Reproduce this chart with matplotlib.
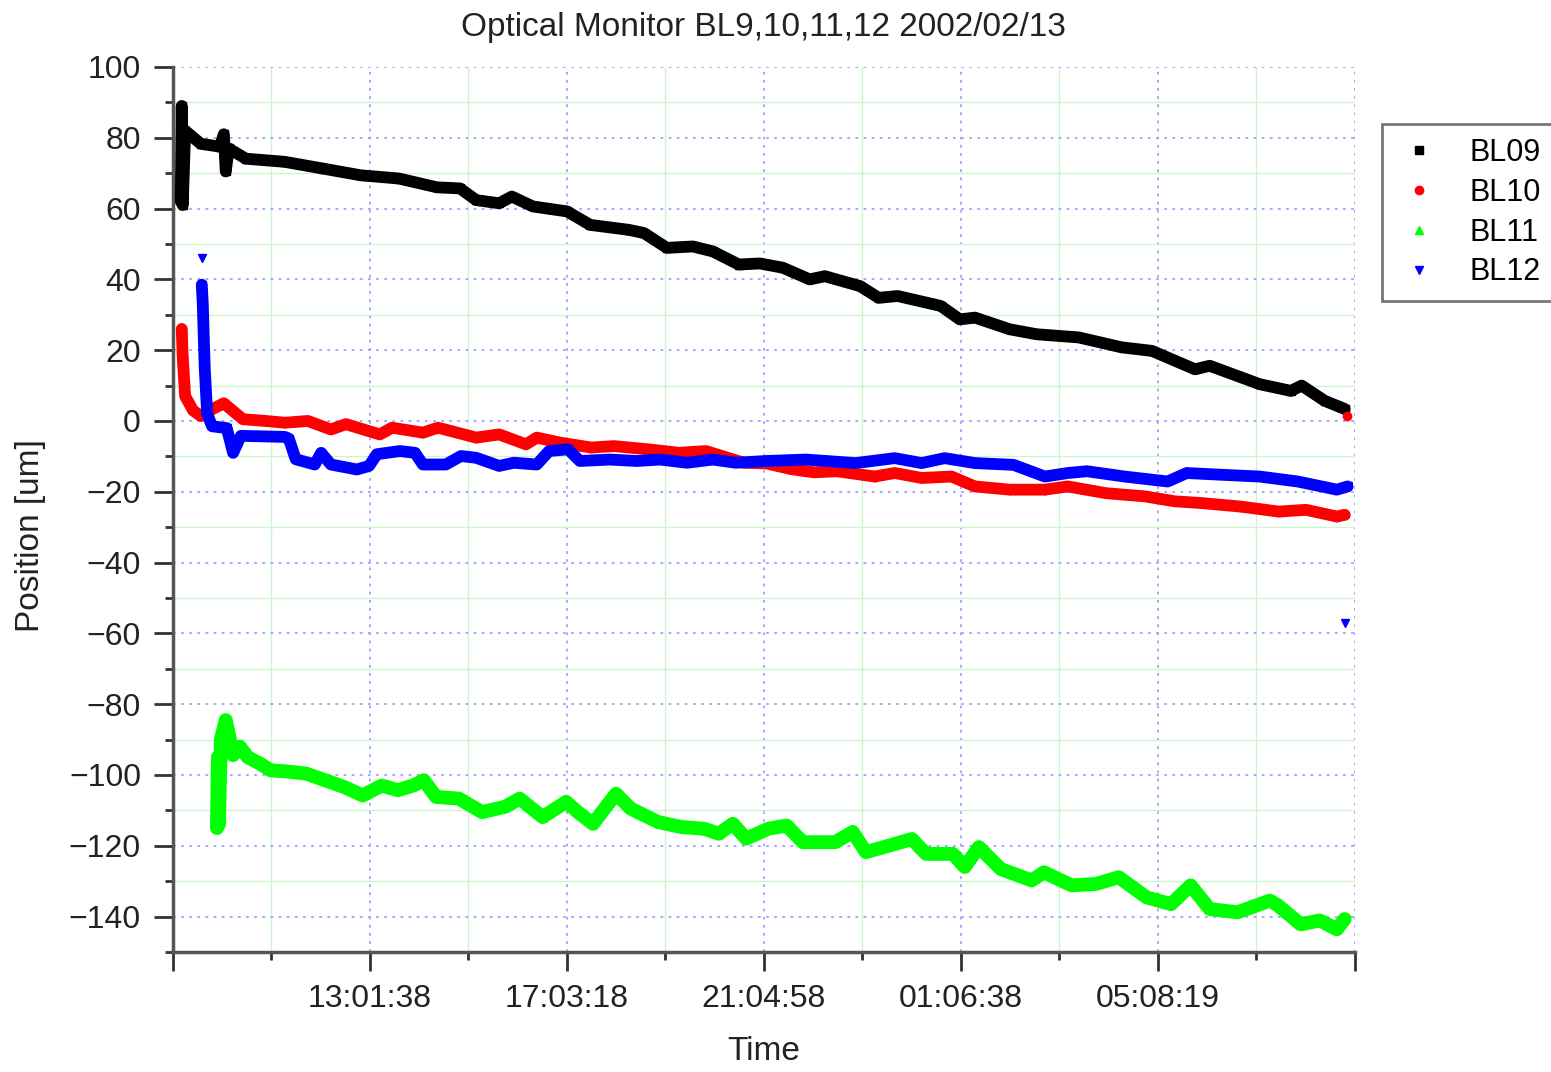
import numpy as np
import matplotlib
matplotlib.use("Agg")
import matplotlib.pyplot as plt
from matplotlib.lines import Line2D
from matplotlib.ticker import MultipleLocator, FixedLocator

plt.rcParams["font.family"] = ["Liberation Sans", "DejaVu Sans"]

# time axis: hours elapsed since the first tick (08:59:58), runs past midnight
t_start = "08:59:58"
t_end = "09:09:59"  # next day
tick_labels = ["13:01:38", "17:03:18", "21:04:58", "01:06:38", "05:08:19"]

# BL09 (black)
t_bl09 = [0.16, 0.18, 0.20, 0.25, 0.57, 0.96, 1.04, 1.08, 1.14, 1.49, 2.29, 3.07,
          3.84, 4.62, 5.40, 5.87, 6.20, 6.67, 6.93, 7.36, 8.06, 8.53, 9.32, 9.63,
          10.10, 10.63, 11.04, 11.57, 12.00, 12.47, 13.02, 13.33, 14.05, 14.43,
          14.82, 15.70, 16.09, 16.40, 17.11, 17.66, 18.52, 19.40, 20.02, 20.90,
          21.20, 22.22, 22.86, 23.08, 23.55, 23.96]
v_bl09 = [62, 89, 61, 82, 78.3, 77.5, 81, 70.5, 77, 74.1, 73.2, 71.3,
          69.4, 68.5, 66, 65.7, 62.4, 61.5, 63.4, 60.6, 59.2, 55.4, 54, 53.1,
          48.9, 49.3, 47.9, 44.2, 44.5, 43.3, 40, 40.9, 38.1, 34.8,
          35.3, 32.5, 28.7, 29.2, 25.9, 24.5, 23.6, 20.8, 19.8, 14.6,
          15.6, 10.4, 8.5, 10, 5.7, 3.4]

# BL10 (red)
t_bl10 = [0.18, 0.20, 0.25, 0.41, 0.57, 0.80, 1.04, 1.43, 1.90, 2.29, 2.76, 3.23,
          3.54, 4.23, 4.48, 5.11, 5.42, 6.20, 6.67, 7.22, 7.44, 7.91, 8.55, 9.02,
          9.71, 10.35, 10.90, 11.67, 12.14, 12.64, 13.11, 13.58, 14.35, 14.76,
          15.31, 15.92, 16.40, 17.11, 17.83, 18.30, 19.08, 19.87, 20.49, 21.04,
          21.84, 22.61, 23.17, 23.80, 23.96, np.nan, 24.00]
v_bl10 = [26, 18, 7, 3, 1.4, 3.3, 5, 0.5, 0, -0.5, 0, -2.4,
          -0.9, -3.8, -1.9, -3.3, -1.9, -4.7, -3.8, -6.6, -4.7, -6.1, -7.5, -7.1,
          -8, -9, -8.5, -11.8, -12, -13.6, -14.5, -14.2, -15.7, -14.7,
          -16.1, -15.7, -18.5, -19.4, -19.4, -18.5, -20.4, -21.3, -22.7, -23.2,
          -24.2, -25.6, -25.1, -27, -26.5, np.nan, 1.5]

# BL11 (green)
t_bl11 = [0.90, 0.92, 0.94, 0.98, 1.08, 1.23, 1.37, 1.53, 1.78, 2.00, 2.31, 2.72,
          3.11, 3.50, 3.88, 4.27, 4.60, 4.91, 5.13, 5.38, 5.85, 6.32, 6.79, 7.09,
          7.56, 8.04, 8.28, 8.59, 9.06, 9.36, 9.92, 10.39, 10.86, 11.16, 11.45,
          11.72, 12.17, 12.55, 12.88, 13.54, 13.90, 14.17, 14.66, 15.11, 15.40,
          15.95, 16.19, 16.48, 16.93, 17.56, 17.81, 18.38, 18.87, 19.34, 19.91,
          20.41, 20.81, 21.20, 21.77, 22.43, 22.59, 23.06, 23.45, 23.80, 23.96]
v_bl11 = [-115, -95, -114, -90, -84.5, -94.4, -92, -95, -96.8, -98.7, -99, -99.6,
          -101.5, -103.4, -105.8, -103, -104.3, -103, -101.5, -106.2, -106.7, -110.5,
          -109, -106.7, -111.9, -107.6, -110.5, -113.8, -105.3, -109.5, -113.3,
          -114.7, -115.2, -116.6, -113.8, -118, -115.2, -114.3, -119, -119, -116.1,
          -121.8, -119.9, -118.1, -122.3, -122.3, -126, -120.4, -126.6, -129.8,
          -127.5, -131.2, -130.8, -128.9, -134.6, -136.5, -131.2, -137.9, -138.8,
          -135.5, -136.8, -142.2, -141.1, -143.6, -140.7]

# BL12 (blue)
t_bl12 = [0.59, np.nan, 0.59, 0.61, 0.65, 0.70, 0.80, 1.10, 1.23, 1.39, 2.29, 2.37,
          2.51, 2.90, 3.03, 3.23, 3.76, 4.01, 4.17, 4.64, 4.95, 5.11, 5.58, 5.89,
          6.20, 6.67, 6.97, 7.44, 7.69, 8.08, 8.32, 8.93, 9.49, 9.96, 10.51, 11.04,
          11.51, 12.14, 12.94, 13.96, 14.76, 15.31, 15.78, 16.40, 17.19, 17.83,
          18.30, 18.69, 19.46, 20.34, 20.73, 21.45, 22.22, 23.00, 23.80, 24.02,
          np.nan, 23.96]
v_bl12 = [46, np.nan, 38.5, 33, 15, 2, -1.5, -2, -9, -4.2, -4.5, -5,
          -10.8, -12.3, -9, -12.3, -13.7, -12.7, -9.4, -8.5, -9, -12.3, -12.3, -9.9,
          -10.4, -12.7, -11.8, -12.3, -8.5, -8, -11.3, -10.9, -11.3, -10.9, -11.8,
          -10.9, -11.8, -11.3, -10.9, -11.9, -10.5, -11.9, -10.5, -11.9, -12.4,
          -15.7, -14.7, -14.2, -15.7, -17.1, -14.7, -15.2, -15.7, -17.1, -19.4,
          -18.5, np.nan, -57]

names = ["BL09", "BL10", "BL11", "BL12"]
colors = ["#000000", "#ff0000", "#00ff00", "#0000ff"]
markers = ["s", "o", "^", "v"]
widths = [8.5, 8.5, 10, 8.5]


def to_hours(s):
    h, m, sec = (int(x) for x in s.split(":"))
    return h + m / 60 + sec / 3600


def elapsed(s):
    d = to_hours(s) - to_hours(t_start)
    return d + 24 if d <= 0 else d


fig = plt.figure(figsize=(15.51, 10.72), dpi=100)
ax = fig.add_axes([0.1115, 0.112, 0.762, 0.8255])

series = [(t_bl09, v_bl09), (t_bl10, v_bl10), (t_bl11, v_bl11), (t_bl12, v_bl12)]
for (t, v), c, mk, w in zip(series, colors, markers, widths):
    ax.plot(t, v, color=c, lw=w, solid_joinstyle="round", solid_capstyle="round",
            marker=mk, ms=6, mec=c, mfc=c, zorder=3)

x_end = 24 + to_hours(t_end) - to_hours(t_start)
major = [0.0] + [elapsed(s) for s in tick_labels] + [x_end]
ax.set_xlim(0, x_end)
ax.set_ylim(-150, 100)
ax.xaxis.set_major_locator(FixedLocator(major))
ax.xaxis.set_minor_locator(FixedLocator([(a + b) / 2 for a, b in zip(major[:-1], major[1:])]))
ax.set_xticklabels([""] + tick_labels + [""])
ax.yaxis.set_major_locator(MultipleLocator(20))
ax.yaxis.set_minor_locator(MultipleLocator(10))

ax.grid(which="major", color="#a0a0ff", ls=(0, (1.5, 3)), lw=1.3, zorder=0)
ax.grid(which="minor", color="#ccf5cc", ls="-", lw=1.0, zorder=0)

for side in ["top", "right"]:
    ax.spines[side].set_visible(False)
for side in ["left", "bottom"]:
    ax.spines[side].set_color("#555555")
    ax.spines[side].set_linewidth(2.5)

ax.tick_params(which="major", direction="out", length=14, width=2, color="#333333",
               labelsize=23, labelcolor="#222222", pad=9)
ax.tick_params(which="minor", direction="out", length=6, width=2, color="#333333")

ax.set_title("Optical Monitor BL9,10,11,12 2002/02/13", fontsize=24, color="#222222", pad=22)
ax.set_xlabel("Time", fontsize=24, color="#222222", labelpad=16)
ax.set_ylabel("Position [um]", fontsize=24, color="#222222")
ax.yaxis.set_label_coords(-0.107, 0.47)

handles = [Line2D([], [], ls="none", marker=mk, color=c, ms=6) for c, mk in zip(colors, markers)]
leg = fig.legend(handles, names, loc="upper left", bbox_to_anchor=(0.891, 0.884),
                 fontsize=22, frameon=True, fancybox=False, borderpad=0.45,
                 borderaxespad=0, labelspacing=0.32, handletextpad=0.9, handlelength=1.5)
leg.get_frame().set_edgecolor("#555555")
leg.get_frame().set_linewidth(2.0)

fig.savefig("out.png", dpi=100)
